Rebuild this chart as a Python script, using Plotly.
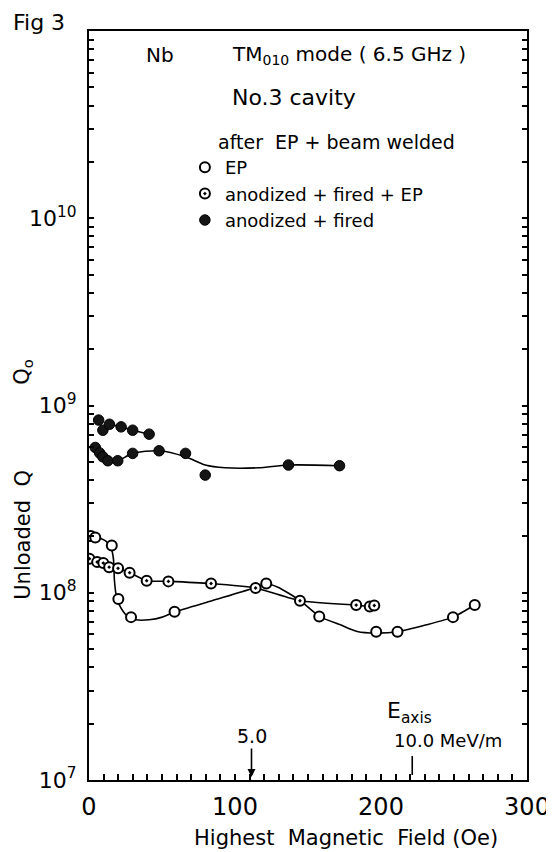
import math
import plotly.graph_objects as go

# ---------------- data ----------------
# Highest magnetic field H (Oe) and unloaded Q
ep_H = [1.2, 4.3, 15.6, 20.1, 28.8, 58.6, 121.4, 157.7, 196.7, 211.3, 249.3, 264.2]
ep_Q = [2.01e8, 1.97e8, 1.79e8, 9.25e7, 7.41e7, 7.91e7, 1.12e8, 7.46e7, 6.19e7, 6.19e7, 7.41e7, 8.6e7]

afe_H = [0.3, 5.6, 9.8, 13.8, 19.9, 27.8, 39.5, 54.4, 83.6, 114.1, 144.5, 183.0, 192.3, 195.4]
afe_Q = [1.52e8, 1.46e8, 1.44e8, 1.37e8, 1.35e8, 1.28e8, 1.16e8, 1.15e8, 1.12e8, 1.06e8,
         9.06e7, 8.59e7, 8.44e7, 8.55e7]

af_upper_H = [6.6, 9.5, 14.0, 22.0, 29.9, 41.2]
af_upper_Q = [8.36e8, 7.38e8, 7.94e8, 7.69e8, 7.38e8, 7.03e8]
af_lower_H = [4.3, 7.3, 9.5, 12.9, 19.7, 29.9, 48.0, 66.1, 79.6, 136.6, 171.6]
af_lower_Q = [5.97e8, 5.58e8, 5.32e8, 5.07e8, 5.07e8, 5.55e8, 5.73e8, 5.55e8, 4.25e8, 4.81e8, 4.77e8]

# hand-drawn guide curves
ep_fit_H = [1.2, 4.3, 11.8, 15.2, 16.8, 17.4, 18.6, 20.8, 25.4, 32.2, 41.2, 50.2, 58.6, 84.1,
            114.7, 121.0, 129.4, 144.8, 158.1, 172.3, 183.7, 196.7, 211.3, 231.1, 249.3, 264.2]
ep_fit_Q = [2.02e8, 2.0e8, 1.88e8, 1.73e8, 1.50e8, 1.17e8, 9.75e7, 8.61e7, 7.62e7, 7.17e7, 7.17e7,
            7.41e7, 7.89e7, 9.06e7, 1.07e8, 1.12e8, 1.07e8, 9.06e7, 7.46e7, 6.74e7, 6.21e7,
            6.09e7, 6.19e7, 6.74e7, 7.41e7, 8.6e7]
af_fit_H = [4.3, 7.3, 9.5, 12.9, 19.7, 29.9, 48.0, 66.1, 79.6, 93.2, 115.8, 136.6, 171.6]
af_fit_Q = [5.97e8, 5.58e8, 5.32e8, 5.07e8, 5.07e8, 5.55e8, 5.73e8, 5.32e8, 4.81e8, 4.65e8,
            4.65e8, 4.81e8, 4.77e8]

# accelerating field marks on the H axis
eaxis_H = [111.3, 221.4]
eaxis_labels = ["5.0", "10.0 MeV/m"]

x_major = [0, 50, 100, 150, 200, 250, 300]
x_labels = {0: "0", 100: "100", 200: "200", 300: "300"}
x_minor = list(range(0, 301, 10))
y_decades = [1e7, 1e8, 1e9, 1e10, 1e11]
y_labels = {7: "10<sup>7</sup>", 8: "10<sup>8</sup>", 9: "10<sup>9</sup>", 10: "10<sup>10</sup>"}
y_minor = [m * 10.0 ** e for e in range(7, 11) for m in range(1, 10)] + [1e11]


def y_tick_text(v):
    e = round(math.log10(v))
    return y_labels.get(e, "") if abs(v / 10 ** e - 1) < 1e-9 else ""


FONT = "DejaVu Sans"
W, H = 554, 852
OFF = 8  # page body margin in the browser
L, R, T, B = 81, 30, 23, 80
PW, PH = W - L - R, H - T - B


def px(x):
    return (x - OFF - L) / PW


def py(y):
    return (H - B - (y - OFF)) / PH


fig = go.Figure()

line_style = dict(color="black", width=1.6)

# guide curves
fig.add_trace(go.Scatter(x=ep_fit_H, y=ep_fit_Q, mode="lines",
                         line=dict(**line_style, shape="spline", smoothing=0.6),
                         showlegend=False, hoverinfo="skip"))
fig.add_trace(go.Scatter(x=afe_H, y=afe_Q, mode="lines",
                         line=dict(**line_style, shape="spline", smoothing=0.6),
                         showlegend=False, hoverinfo="skip"))
fig.add_trace(go.Scatter(x=af_fit_H, y=af_fit_Q, mode="lines",
                         line=dict(**line_style, shape="spline", smoothing=0.8),
                         showlegend=False, hoverinfo="skip"))
fig.add_trace(go.Scatter(x=af_upper_H[1:], y=af_upper_Q[1:], mode="lines", line=line_style,
                         showlegend=False, hoverinfo="skip"))

# markers
fig.add_trace(go.Scatter(x=ep_H, y=ep_Q, mode="markers", name="EP",
                         marker=dict(symbol="circle", size=10, color="white",
                                     line=dict(color="black", width=2))))
fig.add_trace(go.Scatter(x=afe_H, y=afe_Q, mode="markers", name="anodized + fired + EP",
                         marker=dict(symbol="circle-dot", size=10, color="white",
                                     line=dict(color="black", width=2))))
fig.add_trace(go.Scatter(x=af_upper_H + af_lower_H, y=af_upper_Q + af_lower_Q, mode="markers",
                         name="anodized + fired",
                         marker=dict(symbol="circle", size=10.5, color="#151515",
                                     line=dict(color="black", width=1))))


def txt(s, x, y, size=19, xanchor="center", **kw):
    return dict(text=s, x=px(x), y=py(y), xref="paper", yref="paper", showarrow=False,
                xanchor=xanchor, yanchor="middle",
                font=dict(family=FONT, size=size, color="black"), **kw)


ann = [
    txt("Fig 3", 38, 22, size=22),
    txt("Nb", 161, 55, size=20),
    txt("TM<sub>010</sub> mode ( 6.5 GHz )", 232, 55, size=20, xanchor="left"),
    txt("No.3 cavity", 232, 98, size=22, xanchor="left"),
    txt("after  EP + beam welded", 217, 142, size=19, xanchor="left"),
    txt("Unloaded  Q", 22, 535, size=21, textangle=-90),
    txt("Q<sub>o</sub>", 22, 372, size=21, textangle=-90),
    txt("Highest  Magnetic  Field (Oe)", 349, 838, size=21),
    txt("E<sub>axis</sub>", 388, 712, size=22, xanchor="left"),
]

# E-axis marks
ann.append(dict(x=eaxis_H[0], y=7, xref="x", yref="y", ax=0, ay=-44, axref="pixel", ayref="pixel",
                text=eaxis_labels[0], showarrow=True, arrowhead=2, arrowsize=1, arrowwidth=1.6,
                arrowcolor="black", standoff=3, font=dict(family=FONT, size=19, color="black")))
ann.append(dict(x=eaxis_H[1], y=7, xref="x", yref="y", ax=0, ay=-28, axref="pixel", ayref="pixel",
                text=" ", showarrow=True, arrowhead=0, arrowwidth=1.6, arrowcolor="black", standoff=5,
                font=dict(family=FONT, size=4, color="black")))
ann.append(dict(x=eaxis_H[1], y=7, xref="x", yref="y", yshift=40, xshift=-20, xanchor="left",
                yanchor="middle", text=eaxis_labels[1], showarrow=False,
                font=dict(family=FONT, size=18, color="black")))

fig.update_layout(
    width=W, height=H,
    margin=dict(l=L, r=R, t=T, b=B),
    paper_bgcolor="white", plot_bgcolor="white",
    font=dict(family=FONT, color="black"),
    annotations=ann,
    legend=dict(x=px(186), y=py(149), xanchor="left", yanchor="top", bgcolor="rgba(0,0,0,0)",
                font=dict(family=FONT, size=18, color="black"), tracegroupgap=0, itemwidth=30),
    xaxis=dict(
        range=[0, 300], showgrid=False, zeroline=False,
        showline=True, linecolor="black", linewidth=2, mirror=True,
        tickmode="array", tickvals=x_minor, ticktext=[x_labels.get(v, "") for v in x_minor],
        ticks="inside", ticklen=6, tickwidth=1.5, tickcolor="black",
        tickfont=dict(family=FONT, size=24, color="black"), ticklabelstandoff=4,
        ticklabeloverflow="allow",
    ),
    xaxis2=dict(
        overlaying="x", anchor="y", side="bottom", range=[0, 300], showgrid=False, zeroline=False,
        showline=False, tickmode="array", tickvals=x_major, showticklabels=False,
        ticks="inside", ticklen=11, tickwidth=1.5, tickcolor="black",
    ),
    yaxis=dict(
        type="log", range=[7, 11], showgrid=False, zeroline=False,
        showline=True, linecolor="black", linewidth=2, mirror="ticks",
        tickmode="array", tickvals=y_minor, ticktext=[y_tick_text(v) for v in y_minor],
        ticks="inside", ticklen=5, tickwidth=1.5, tickcolor="black",
        tickfont=dict(family=FONT, size=22, color="black"), ticklabelstandoff=6,
    ),
    yaxis2=dict(
        overlaying="y", anchor="x", side="left", type="log", range=[7, 11], showgrid=False,
        zeroline=False, showline=False, mirror="ticks", tickmode="array", tickvals=y_decades,
        showticklabels=False, ticks="inside", ticklen=9, tickwidth=1.5, tickcolor="black",
    ),
)

fig.write_html("out.html")
